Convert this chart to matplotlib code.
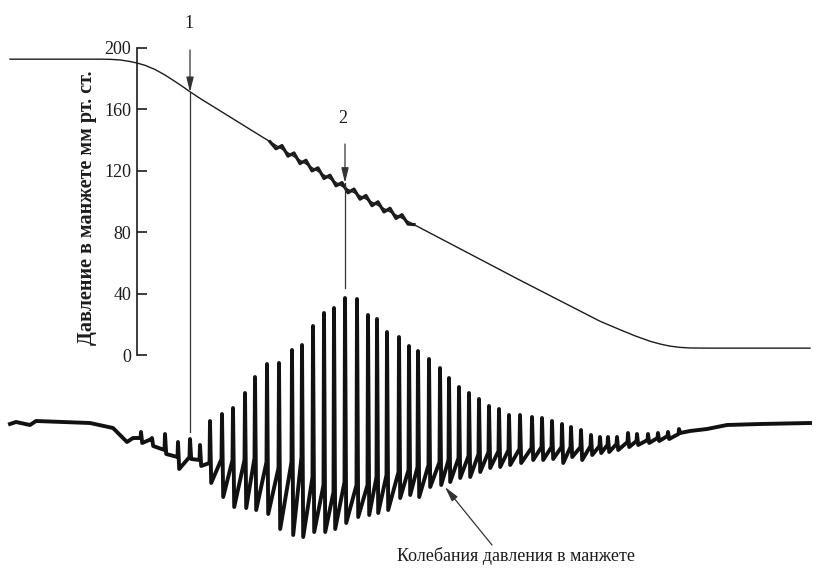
import matplotlib
matplotlib.use("Agg")
import matplotlib.pyplot as plt

plt.rcParams["font.family"] = ["Liberation Serif", "DejaVu Serif"]

INK = "#1c1c1c"

# cuff pressure curve (time in arbitrary record units, mmHg)
cuff_t = [1.0, 10.0, 11.0, 12.0, 13.0, 13.7, 14.5, 15.5, 16.5, 17.5, 18.3, 19.0, 20.0,
          27.0, 34.3, 41.8, 52.0, 60.0, 62.0, 63.5, 65.0, 66.0, 67.0, 68.0, 69.0, 71.0, 81.0]
cuff_p = [192.5, 192.5, 192.4, 192.0, 191.0, 190.0, 188.5, 185.8, 182.2, 178.0, 174.5, 171.3, 167.0,
          138.8, 109.5, 83.5, 48.7, 22.0, 16.5, 12.5, 9.0, 7.2, 5.8, 5.0, 4.6, 4.5, 4.5]

# small pulsations riding on the cuff pressure while the artery opens
wig_t = [27.0, 27.6, 28.2, 28.8, 29.4, 30.0, 30.6, 31.2, 31.8, 32.4, 33.0, 33.6,
         34.2, 34.8, 35.4, 36.0, 36.6, 37.2, 37.8, 38.4, 39.0, 39.6, 40.2, 40.8, 41.4]
wig_p = [138.8, 134.2, 136.3, 129.4, 131.5, 124.6, 126.7, 119.8, 121.8, 114.9, 117.0, 110.1,
         112.2, 105.6, 108.0, 101.4, 103.8, 97.2, 99.7, 93.1, 95.5, 88.9, 91.3, 85.2, 84.9]

# oscillation trace (relative units, 0 = resting level)
rest_t = [1.0, 1.6, 3.0, 3.6, 9.0, 11.3, 12.7, 13.3, 13.9]
rest_v = [0, 2, -1, 3, 1, -4, -18, -14, -14]

pulse_t = [14.1, 15.2, 16.5, 17.8, 19.0, 20.0, 21.0, 22.2, 23.3, 24.5,
           25.5, 26.7, 27.9, 29.2, 30.2, 31.3, 32.4, 33.4, 34.5, 35.7,
           36.8, 37.7, 38.7, 39.9, 40.9, 41.8, 42.9, 44.0, 44.9, 45.9,
           46.9, 47.9, 48.9, 49.9, 50.9, 52.0, 53.2, 54.2, 55.2, 56.2,
           57.1, 58.1, 59.1, 60.0, 60.8, 61.7, 62.8, 63.7, 64.8, 65.8,
           66.8, 67.9]
pulse_joint = [-14, -15, -26, -33, -33, -36, -39, -35, -36, -36,
               -34, -38, -44, -38, -33, -53, -61, -68, -58, -61,
               -61, -53, -51, -48, -46, -43, -41, -38, -36, -34,
               -32, -30, -28, -27, -26, -25, -24, -23, -23, -23,
               -23, -23, -22, -22, -21, -20, -18, -17, -16, -14,
               -12, -10]
pulse_top = [-8, -14, -10, -18, -15, -21, 3, 10, 16, 31,
             47, 60, 61, 74, 79, 98, 111, 116, 126, 125,
             109, 105, 92, 87, 78, 73, 65, 56, 46, 37,
             31, 25, 18, 15, 9, 9, 7, 6, 3, 0,
             -3, -6, -11, -13, -13, -13, -9, -10, -10, -9,
             -8, -5]
pulse_bottom = [-19, -22, -30, -45, -35, -42, -59, -73, -83, -84,
                -86, -90, -105, -111, -113, -108, -108, -105, -99, -93,
                -91, -89, -86, -74, -71, -73, -63, -61, -58, -54,
                -53, -48, -44, -43, -41, -39, -36, -36, -35, -39,
                -33, -36, -31, -29, -28, -26, -23, -21, -19, -17,
                -15, -9]

tail_t = [69.0, 70.7, 72.7, 76.0, 81.0]
tail_v = [-7, -5, -1, 0, 1]

yticks = [0, 40, 80, 120, 160, 200]
ylabel = "Давление в манжете мм рт. ст."
osc_label = "Колебания давления в манжете"

fig = plt.figure(figsize=(8.25, 5.77), dpi=100)
ax = fig.add_axes([0, 0, 1, 1])
ax.set_xlim(0, 82.5)
ax.set_ylim(-144.4, 231.0)
ax.patch.set_alpha(0)

for side in ["top", "right", "bottom"]:
    ax.spines[side].set_visible(False)
ax.spines["left"].set_position(("data", 13.7))
ax.spines["left"].set_bounds(0, 200)
ax.spines["left"].set_linewidth(1.2)
ax.spines["left"].set_color(INK)
ax.set_xticks([])
ax.set_yticks(yticks)
ax.tick_params(axis="y", direction="in", length=7, width=1.2, pad=4,
               labelsize=13, colors=INK)

ax.text(8.7, 96, ylabel, rotation=90, ha="center", va="center",
        fontsize=14.5, fontweight="bold", color=INK)

# cuff pressure
ax.plot(cuff_t, cuff_p, color=INK, lw=1.0)
ax.plot(wig_t, wig_p, color=INK, lw=2.3, solid_joinstyle="round")

# markers 1 and 2
arrow_kw = dict(arrowstyle="-|>,head_length=0.9,head_width=0.22", color="#333333", lw=0.9,
                shrinkA=0, shrinkB=0)
ax.annotate("", xy=(19.0, 171.0), xytext=(19.0, 198.5), arrowprops=arrow_kw)
ax.plot([19.0, 19.0], [171.0, -50.0], color="#333333", lw=0.9)
ax.text(18.9, 216, "1", ha="center", va="center", fontsize=13, color=INK)

ax.annotate("", xy=(34.5, 112.0), xytext=(34.5, 137.3), arrowprops=arrow_kw)
ax.plot([34.5, 34.5], [112.0, 43.6], color="#333333", lw=0.9)
ax.text(34.3, 154, "2", ha="center", va="center", fontsize=13, color=INK)

# oscillation trace on its own scale
osc = fig.add_axes([0, 0, 1, 1])
osc.set_xlim(0, 82.5)
osc.set_ylim(-153, 424)
osc.axis("off")
osc.patch.set_alpha(0)

xs, ys = list(rest_t), list(rest_v)
for t, j, top, bot in zip(pulse_t, pulse_joint, pulse_top, pulse_bottom):
    xs += [t - 0.05, t, t + 0.12]
    ys += [j, top, bot]
xs += tail_t
ys += tail_v
osc.plot(xs, ys, color="#111111", lw=2.8, solid_joinstyle="round")

osc.annotate("", xy=(44.5, -63), xytext=(49.2, -121),
             arrowprops=dict(arrowstyle="-|>,head_length=0.9,head_width=0.22",
                             color="#333333", lw=0.9, shrinkA=0, shrinkB=0))
osc.text(51.6, -132, osc_label, ha="center", va="center", fontsize=13, color=INK)

fig.savefig("out.png", dpi=100)
